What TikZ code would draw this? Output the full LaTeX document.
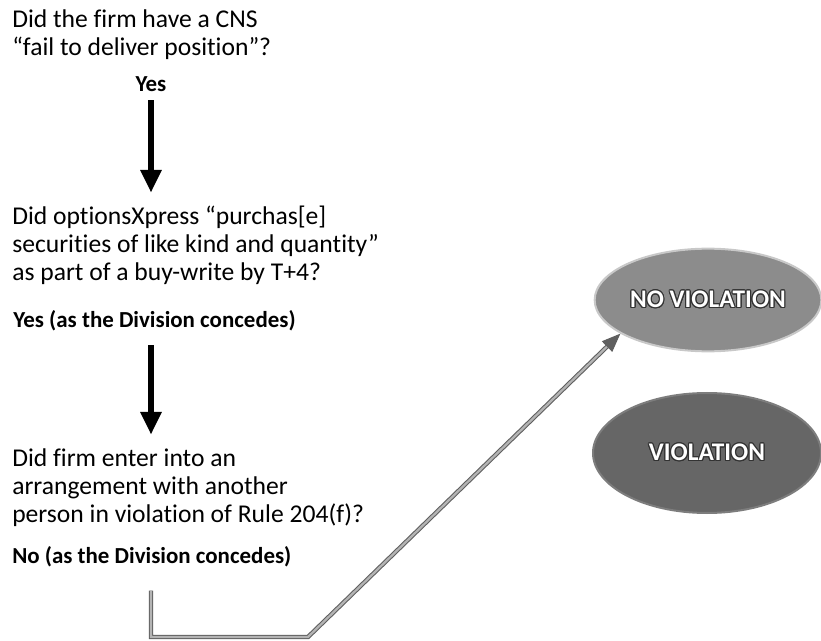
\documentclass[tikz,border=0pt]{standalone}
\usepackage{fontspec}
\setmainfont{Carlito}[Ligatures=NoCommon]
\usepackage{xcolor}
\usepackage{contour}
\usepackage{tikz}
\usetikzlibrary{positioning,calc,arrows.meta,shapes.geometric}
\contourlength{0.8pt}
\newcommand{\qsize}{\fontsize{19.2}{21}\selectfont}
\newcommand{\asize}{\fontsize{17.2}{21}\selectfont}
\newcommand{\osize}{\fontsize{19}{21}\selectfont}

\begin{document}
\begin{tikzpicture}[x=0.75pt,y=-0.75pt]
	\definecolor{novfill}{RGB}{140,140,140}
	\definecolor{novrim}{RGB}{200,200,200}
	\definecolor{vfill}{RGB}{102,102,102}
	\definecolor{vrim}{RGB}{125,125,125}
	\definecolor{trace}{RGB}{95,95,95}
	\definecolor{traceln}{RGB}{180,180,180}
	\tikzset{
		qtext/.style={
			align=left, anchor=north west, inner sep=0pt, font=\qsize
		},
		ans/.style={
			inner sep=0pt, font=\asize\bfseries
		},
		down/.style={
			-{Triangle[length=17pt,width=15pt]},
			draw=black, line width=4.5pt
		},
		outcome/.style={
			ellipse, line width=1.5pt, inner sep=0pt,
			font=\osize\bfseries, text=white
		},
		ntrace/.style={
			-{Triangle[length=14pt,width=11pt]},
			draw=trace, double=traceln, double distance=1.7pt, line width=0.8pt
		}
	}
	\useasboundingbox (0,0) rectangle (821,641);
	
	% ======= Question 1 =======
	\node[qtext] (q1) at (12,9) {Did the firm have a CNS\\``fail to deliver position''?};
	\node[ans, anchor=base] (yes1) at (151,92) {Yes};
	
	% ======= Question 2 =======
	\node[qtext] (q2) at (12,206) {Did optionsXpress ``purchas[e]\\securities of like kind and quantity''\\as part of a buy-write by T+4?};
	\node[ans, anchor=base west] (ans2) at (13,328) {Yes (as the Division concedes)};
	
	% ======= Question 3 =======
	\node[qtext] (q3) at (12,448) {Did firm enter into an\\arrangement with another\\person in violation of Rule 204(f)?};
	\node[ans, anchor=base west] (ans3) at (12,563) {No (as the Division concedes)};
	
	% ======= Outcomes =======
	\node[outcome, draw=novrim, fill=novfill, minimum width=170pt, minimum height=77pt] (nov) at (708,300) {\contour{black!80}{NO VIOLATION}};
	\node[outcome, draw=vrim, fill=vfill, minimum width=171pt, minimum height=90pt] (viol) at (707,453) {\contour{black!80}{VIOLATION}};
	
	% ======= Arrows =======
	\draw[down, shorten <=6pt, shorten >=10pt] (yes1.south) -- (q2.north -| yes1);
	\draw[down, shorten <=10pt, shorten >=10pt] (ans2.south -| yes1) -- (q3.north -| yes1);
	
	\coordinate (bend) at (308,637);
	\draw[ntrace, shorten <=18pt] (ans3.south -| yes1) |- (bend) -- (nov.201);
	
\end{tikzpicture}
\end{document}
